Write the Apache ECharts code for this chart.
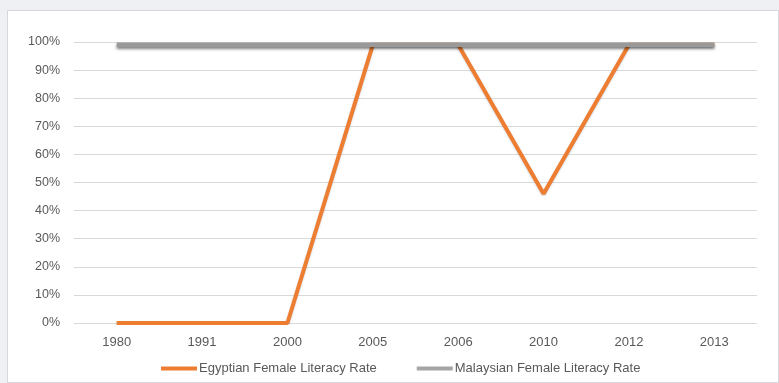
<!DOCTYPE html>
<html>
<head>
<meta charset="utf-8">
<script src="https://cdn.jsdelivr.net/npm/echarts@6/dist/echarts.min.js"></script>
<style>
  html, body { margin: 0; padding: 0; background: #eef0f3; }
  #panel { position: absolute; left: 7px; top: 10px; width: 772px; height: 373px;
           background: #fff; border: 1px solid #d6d8db; box-sizing: border-box; }
  #chart { position: absolute; left: 0; top: 0; width: 779px; height: 383px; }
</style>
</head>
<body>
<div id="panel"></div>
<div id="chart"></div>
<script>
// Female literacy rate by year (percent)
const years = ['1980', '1991', '2000', '2005', '2006', '2010', '2012', '2013'];
const egyptRate = [0, 0, 0, 99, 99, 46, 99, 99];
const malaysiaRate = [99, 99, 99, 99, 99, 99, 99, 99];
const seriesNames = ['Egyptian Female Literacy Rate', 'Malaysian Female Literacy Rate'];

const textColor = '#595959';
const font = 'Liberation Sans';

const chart = echarts.init(document.getElementById('chart'), null, { renderer: 'canvas' });
chart.setOption({
  backgroundColor: 'transparent',
  animation: false,
  grid: { left: 74, right: 22, top: 42, bottom: 60 },
  legend: {
    bottom: 3,
    left: 156,
    icon: 'rect',
    itemWidth: 36,
    itemHeight: 4,
    itemGap: 40,
    textStyle: { color: textColor, fontSize: 13, fontFamily: font, padding: [0, 0, 0, -3] },
    data: seriesNames
  },
  xAxis: {
    type: 'category',
    data: years,
    boundaryGap: true,
    axisLine: { show: false },
    axisTick: { show: false },
    axisLabel: { color: textColor, fontSize: 13, fontFamily: font, margin: 13 }
  },
  yAxis: {
    type: 'value',
    min: 0,
    max: 100,
    interval: 10,
    axisLine: { show: false },
    axisTick: { show: false },
    axisLabel: { color: textColor, fontSize: 12.5, fontFamily: font, margin: 14,
                 formatter: v => v + '%' },
    splitLine: { lineStyle: { color: '#d9d9d9', width: 1 } }
  },
  series: [
    {
      name: seriesNames[0],
      type: 'line',
      data: egyptRate,
      symbol: 'none',
      z: 2,
      itemStyle: { color: '#ED7D31' },
      lineStyle: { color: '#ED7D31', width: 4,
                   shadowColor: 'rgba(60,80,120,0.25)', shadowBlur: 2, shadowOffsetY: 1 }
    },
    {
      name: seriesNames[1],
      type: 'line',
      data: malaysiaRate,
      symbol: 'none',
      z: 3,
      itemStyle: { color: '#A5A5A5' },
      lineStyle: { color: '#999999', width: 4.5,
                   shadowColor: 'rgba(0,0,0,0.5)', shadowBlur: 3, shadowOffsetY: 2 }
    }
  ]
});
</script>
</body>
</html>
